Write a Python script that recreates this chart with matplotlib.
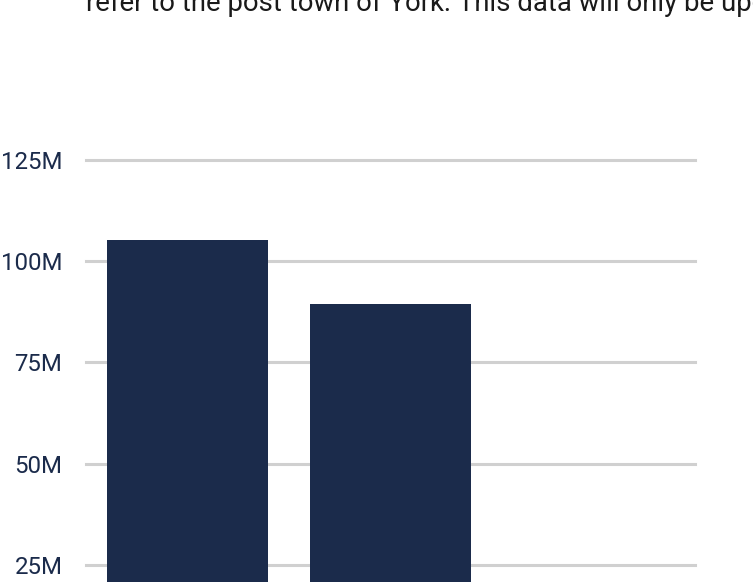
import matplotlib.pyplot as plt
from matplotlib.ticker import FuncFormatter

plt.rcParams['font.family'] = ['Roboto', 'DejaVu Sans']

# values in millions
periods = ['2021', '2022']
values = [105.2, 89.4]
y_ticks = [25, 50, 75, 100, 125]
note = 'refer to the post town of York. This data will only be updated annually.'

navy = '#1b2b4b'
grid_grey = '#d0d0d0'

W, H = 753, 582
fig = plt.figure(figsize=(W / 100, H / 100), dpi=100)

# axes placed in pixel terms; the zero line sits below the figure edge
left, right, top, zero = 86, 695, 160, 666
ax = fig.add_axes([left / W, (H - zero) / H, (right - left) / W, (zero - top) / H])

ax.bar(range(len(values)), values, width=0.79, color=navy, zorder=2)
ax.set_xlim(-0.5, 2.5)
ax.set_ylim(0, 125)

ax.set_yticks(y_ticks)
ax.yaxis.set_major_formatter(FuncFormatter(lambda v, _: f'{int(v)}M'))
ax.tick_params(axis='y', length=0, pad=17, labelsize=17.3, labelcolor=navy)
ax.tick_params(axis='x', length=0, labelbottom=False)
ax.grid(axis='y', color=grid_grey, linewidth=2.2, zorder=1)
ax.grid(axis='x', visible=False)
for s in ax.spines.values():
    s.set_visible(False)
for gl in ax.get_ygridlines():
    gl.set_clip_on(False)

# intro sentence running off the top of the figure
fig.text(86 / W, (H - 11) / H, note, fontsize=19.8, color='#1a1a1a',
         ha='left', va='baseline')

fig.savefig('out.png', dpi=100, facecolor='white')
